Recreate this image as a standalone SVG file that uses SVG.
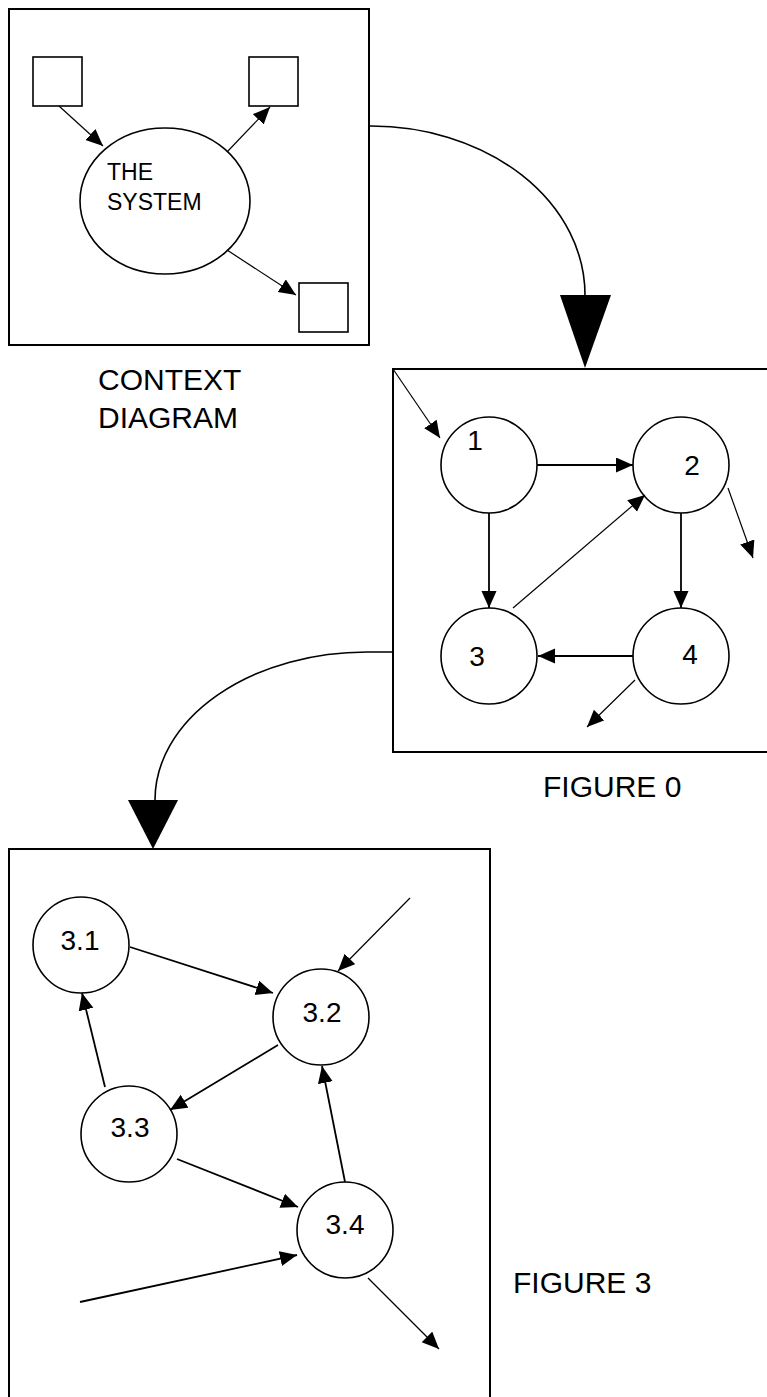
<svg xmlns="http://www.w3.org/2000/svg" width="767" height="1397" viewBox="0 0 767 1397">
<style>
.box{fill:none;stroke:#000;stroke-width:2}
.node{fill:#fff;stroke:#000;stroke-width:1.6}
.arr{fill:none;stroke:#000;stroke-width:1.8;marker-end:url(#ah)}
.thin{stroke-width:1.2}
.curve{fill:none;stroke:#000;stroke-width:1.6}
.big{fill:#000}
.lbl{font-family:"Liberation Sans",Arial,sans-serif;font-size:30px;fill:#000}
.num{font-family:"Liberation Sans",Arial,sans-serif;font-size:28px;fill:#000;text-anchor:middle}
.sys{font-family:"Liberation Sans",Arial,sans-serif;font-size:23px;fill:#000}
</style>
<defs>
<marker id="ah" markerUnits="userSpaceOnUse" markerWidth="18" markerHeight="16" refX="17" refY="7.5" orient="auto">
<path d="M0,0 L17,7.5 L0,15 z" fill="#000"/>
</marker>
</defs>
<rect width="767" height="1397" fill="#fff"/>

<g id="context-diagram">
<rect class="box" x="9" y="9" width="360" height="336"/>
<g id="ext-in"><rect class="node" x="33" y="57" width="49" height="49"/></g>
<g id="ext-out1"><rect class="node" x="249" y="57" width="49" height="49"/></g>
<g id="ext-out2"><rect class="node" x="299" y="283" width="49" height="49"/></g>
<g id="the-system">
<ellipse class="node" cx="165" cy="201" rx="85" ry="73"/>
<text class="sys" x="107" y="180">THE</text>
<text class="sys" x="107" y="210">SYSTEM</text>
</g>
</g>

<g id="figure0">
<rect class="box" x="393" y="369" width="400" height="383"/>
<g id="p1"><circle class="node" cx="489" cy="465" r="48"/><text class="num" x="475" y="450">1</text></g>
<g id="p2"><circle class="node" cx="681" cy="465" r="48"/><text class="num" x="692" y="475">2</text></g>
<g id="p3"><circle class="node" cx="489" cy="656" r="48"/><text class="num" x="477" y="666">3</text></g>
<g id="p4"><circle class="node" cx="681" cy="656" r="48"/><text class="num" x="690" y="664">4</text></g>
</g>

<g id="figure3">
<rect class="box" x="9" y="849" width="481" height="600"/>
<g id="p31"><circle class="node" cx="81" cy="945" r="48"/><text class="num" x="80" y="950">3.1</text></g>
<g id="p32"><circle class="node" cx="321" cy="1017" r="48"/><text class="num" x="322" y="1022">3.2</text></g>
<g id="p33"><circle class="node" cx="129" cy="1134" r="48"/><text class="num" x="130" y="1137">3.3</text></g>
<g id="p34"><circle class="node" cx="345" cy="1230" r="48"/><text class="num" x="345" y="1234">3.4</text></g>
</g>

<g id="labels">
<text class="lbl" x="98" y="390">CONTEXT</text>
<text class="lbl" x="98" y="428">DIAGRAM</text>
<text class="lbl" x="543" y="797">FIGURE 0</text>
<text class="lbl" x="513" y="1293">FIGURE 3</text>
</g>

<g id="connectors">
<line class="arr thin" x1="59" y1="106" x2="103" y2="146"/>
<line class="arr thin" x1="227" y1="152" x2="270" y2="107"/>
<line class="arr thin" x1="227" y1="250" x2="296" y2="295"/>

<path class="curve" d="M369,126 A214,169 0 0 1 585,295"/>
<polygon class="big" points="560,295 611,295 585,368"/>

<line class="arr thin" x1="393" y1="369" x2="440" y2="438"/>
<line class="arr" x1="537" y1="465" x2="633" y2="465"/>
<line class="arr" x1="489" y1="513" x2="489" y2="608"/>
<line class="arr thin" x1="513" y1="608" x2="645" y2="495"/>
<line class="arr" x1="681" y1="513" x2="681" y2="608"/>
<line class="arr" x1="633" y1="656" x2="538" y2="656"/>
<line class="arr thin" x1="728" y1="488" x2="753" y2="558"/>
<line class="arr thin" x1="635" y1="680" x2="587" y2="727"/>

<path class="curve" d="M393,652 L368,652 A212,148 0 0 0 155,800"/>
<polygon class="big" points="128,800 178,800 153,849"/>

<line class="arr" x1="130" y1="947" x2="273" y2="993"/>
<line class="arr thin" x1="410" y1="898" x2="338" y2="971"/>
<line class="arr" x1="105" y1="1087" x2="82" y2="993"/>
<line class="arr" x1="278" y1="1045" x2="170" y2="1110"/>
<line class="arr" x1="345" y1="1182" x2="322" y2="1066"/>
<line class="arr" x1="177" y1="1159" x2="298" y2="1207"/>
<line class="arr" x1="80" y1="1302" x2="297" y2="1255"/>
<line class="arr thin" x1="368" y1="1278" x2="439" y2="1349"/>
</g>
</svg>
